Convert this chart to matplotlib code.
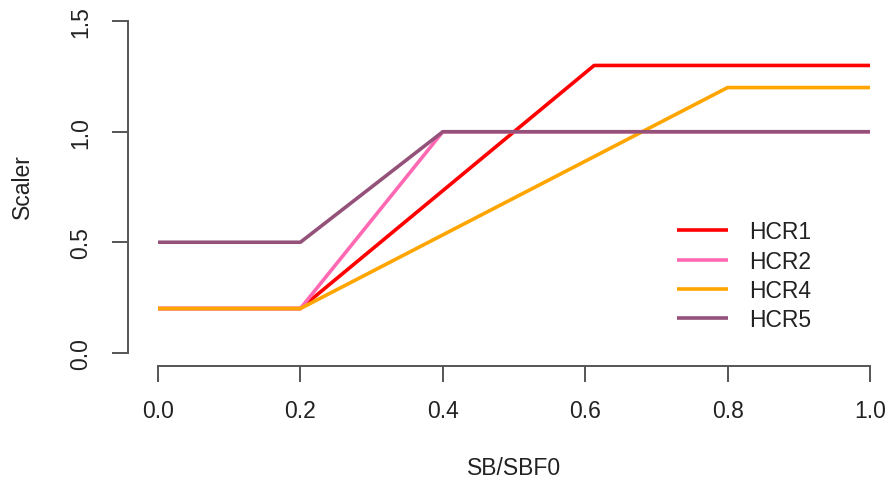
import matplotlib.pyplot as plt

plt.rcParams['font.family'] = ['Liberation Sans', 'DejaVu Sans']

# control rule breakpoints (SB/SBF0 -> scaler)
sb = {
    "HCR1": [0.0, 0.2, 0.6125, 1.0],
    "HCR2": [0.0, 0.2, 0.4, 1.0],
    "HCR4": [0.0, 0.2, 0.8, 1.0],
    "HCR5": [0.0, 0.2, 0.4, 1.0],
}
scaler = {
    "HCR1": [0.2, 0.2, 1.3, 1.3],
    "HCR2": [0.2, 0.2, 1.0, 1.0],
    "HCR4": [0.2, 0.2, 1.2, 1.2],
    "HCR5": [0.5, 0.5, 1.0, 1.0],
}
colors = {"HCR1": "#ff0000", "HCR2": "#ff69b4", "HCR4": "#ffa500", "HCR5": "#94527a"}

W, H = 892, 489
fig = plt.figure(figsize=(W / 100, H / 100), dpi=100)
# plot region in pixels: left 128, right 892, top 9, bottom 367
ax = fig.add_axes([128 / W, 1 - 367 / H, (892 - 128) / W, (367 - 9) / H])

for name in sb:
    ax.plot(sb[name], scaler[name], color=colors[name], lw=2.6,
            solid_joinstyle='round', solid_capstyle='butt', label=name)

ax.set_xlim(-30 / 712, 1 + 22 / 712)
ax.set_ylim(-0.06, 1.56)

for s in ['top', 'right']:
    ax.spines[s].set_visible(False)
ax.spines['left'].set_bounds(0, 1.5)
ax.spines['bottom'].set_bounds(0, 1)
for s in ['left', 'bottom']:
    ax.spines[s].set_color('#555555')
    ax.spines[s].set_linewidth(1.4)

ax.set_xticks([0, 0.2, 0.4, 0.6, 0.8, 1.0])
ax.set_xticklabels(['0.0', '0.2', '0.4', '0.6', '0.8', '1.0'])
ax.set_yticks([0, 0.5, 1.0, 1.5])
ax.set_yticklabels(['0.0', '0.5', '1.0', '1.5'], rotation=90, va='center')
ax.tick_params(axis='both', length=11.5, width=1.4, color='#555555',
               labelsize=16.5, labelcolor='#222222')
ax.tick_params(axis='x', pad=12)
ax.tick_params(axis='y', pad=14)

fig.text(514 / W, 1 - 469 / H, 'SB/SBF0', ha='center', va='center',
         fontsize=16.5, color='#222222')
fig.text(22 / W, 1 - 187 / H, 'Scaler', ha='center', va='center',
         rotation=90, fontsize=16.5, color='#222222')

leg = ax.legend(loc='upper left', bbox_to_anchor=((668 - 128) / 764, 1 - (212 - 9) / 358),
                frameon=False, fontsize=16.5, handlelength=2.2, handletextpad=0.95,
                labelspacing=0.28, borderaxespad=0)
for t in leg.get_texts():
    t.set_color('#222222')

fig.savefig('out.png', dpi=100)
